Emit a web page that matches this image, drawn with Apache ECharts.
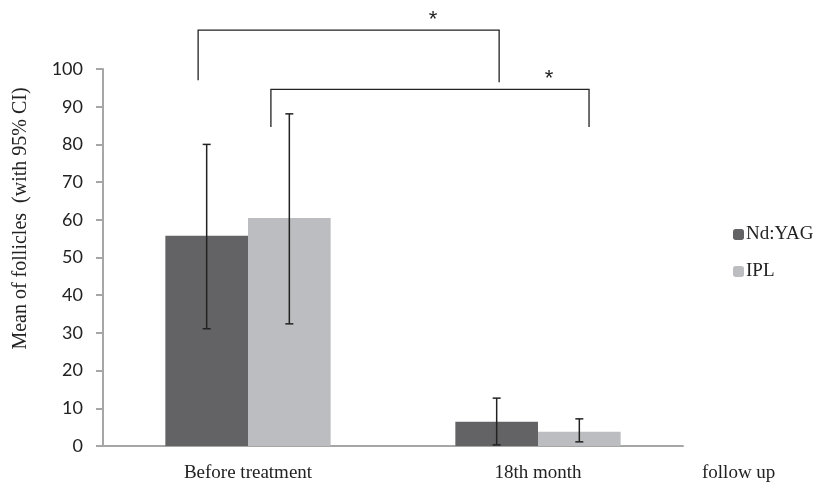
<!DOCTYPE html>
<html>
<head>
<meta charset="utf-8">
<script src="https://cdn.jsdelivr.net/npm/echarts@6/dist/echarts.min.js"></script>
<style>
  html, body { margin: 0; padding: 0; background: #fff; }
  #chart { width: 825px; height: 487px; }
</style>
</head>
<body>
<div id="chart"></div>
<script>
const categories = ['Before treatment', '18th month']
const yagMean = [55.8, 6.4]
const yagLow = [31.1, 0.3]
const yagHigh = [80.0, 12.7]
const iplMean = [60.5, 3.8]
const iplLow = [32.4, 1.1]
const iplHigh = [88.1, 7.2]

// significance brackets: [startCat, endCat, startShift, endShift, top, leftFoot, rightFoot, starShift]
const brackets = [
  [0, 1, -0.172, -0.134, 110.3, 97.0, 96.5, -0.362],
  [0, 1, 0.079, 0.176, 94.6, 84.6, 84.6, 0.038]
]

const gapFrac = 0.43
const serif = '"Liberation Serif", "DejaVu Serif", serif'
const axisGrey = '#a6a6a6'

const chart = echarts.init(document.getElementById('chart'))

function errorItem(side) {
  return (params, api) => {
    const idx = api.value(0)
    const lo = api.coord([idx, api.value(1)])
    const hi = api.coord([idx, api.value(2)])
    const band = api.size([1, 0])[0]
    const barW = band * (1 - gapFrac) / 2
    const x = lo[0] + side * barW / 2
    const cap = 4
    const style = { stroke: '#222', lineWidth: 1.5 }
    return {
      type: 'group',
      children: [
        { type: 'line', shape: { x1: x, y1: lo[1], x2: x, y2: hi[1] }, style },
        { type: 'line', shape: { x1: x - cap, y1: lo[1], x2: x + cap, y2: lo[1] }, style },
        { type: 'line', shape: { x1: x - cap, y1: hi[1], x2: x + cap, y2: hi[1] }, style }
      ]
    }
  }
}

function bracketItem(params, api) {
  const band = api.size([1, 0])[0]
  const a = api.coord([api.value(0), api.value(4)])
  const b = api.coord([api.value(1), api.value(4)])
  const x1 = a[0] + api.value(2) * band
  const x2 = b[0] + api.value(3) * band
  const xs = b[0] + api.value(7) * band
  const yTop = a[1]
  const yL = api.coord([0, api.value(5)])[1]
  const yR = api.coord([0, api.value(6)])[1]
  return {
    type: 'group',
    children: [
      {
        type: 'polyline',
        shape: { points: [[x1, yL], [x1, yTop], [x2, yTop], [x2, yR]] },
        style: { stroke: '#222', lineWidth: 1.3, fill: 'none' }
      },
      {
        type: 'text',
        style: {
          text: '*', x: xs, y: yTop + 1,
          font: '22px "Liberation Sans", sans-serif',
          fill: '#222', align: 'center', verticalAlign: 'bottom'
        }
      }
    ]
  }
}

chart.setOption({
  animation: false,
  grid: { left: 103, right: 142, top: 69, bottom: 41, containLabel: false, outerBoundsMode: 'none' },
  legend: {
    orient: 'vertical',
    left: 728,
    top: 220,
    itemWidth: 11,
    itemHeight: 11,
    itemGap: 18,
    data: ['Nd:YAG', 'IPL'],
    textStyle: { fontFamily: serif, fontSize: 19, color: '#222', padding: [0, 0, 0, -3] }
  },
  xAxis: {
    type: 'category',
    data: categories,
    name: 'follow up',
    nameLocation: 'end',
    nameGap: 19,
    nameTextStyle: { fontFamily: serif, fontSize: 19, color: '#222', verticalAlign: 'top', padding: [18, 0, 0, 0] },
    axisLine: { lineStyle: { color: axisGrey, width: 2 } },
    axisTick: { length: 6, lineStyle: { color: axisGrey, width: 2 } },
    axisLabel: { fontFamily: serif, fontSize: 19, color: '#222', margin: 18 }
  },
  yAxis: {
    type: 'value',
    min: 0,
    max: 100,
    interval: 10,
    name: 'Mean of follicles  (with 95% CI)',
    nameLocation: 'middle',
    nameGap: 72,
    nameTextStyle: { fontFamily: serif, fontSize: 20, color: '#222', padding: [0, 0, 0, 78] },
    splitLine: { show: false },
    axisLine: { show: true, lineStyle: { color: axisGrey, width: 2 } },
    axisTick: { show: true, length: 7, lineStyle: { color: axisGrey, width: 2 } },
    axisLabel: { fontFamily: 'Lato, sans-serif', fontSize: 18, color: '#222', margin: 20 }
  },
  series: [
    {
      name: 'Nd:YAG',
      type: 'bar',
      data: yagMean,
      barGap: '0%',
      barCategoryGap: (gapFrac * 100) + '%',
      itemStyle: { color: '#636365' }
    },
    {
      name: 'IPL',
      type: 'bar',
      data: iplMean,
      barGap: '0%',
      barCategoryGap: (gapFrac * 100) + '%',
      itemStyle: { color: '#bcbdc0' }
    },
    {
      type: 'custom',
      renderItem: errorItem(-1),
      data: categories.map((c, i) => [i, yagLow[i], yagHigh[i]]),
      z: 5
    },
    {
      type: 'custom',
      renderItem: errorItem(1),
      data: categories.map((c, i) => [i, iplLow[i], iplHigh[i]]),
      z: 5
    },
    {
      type: 'custom',
      renderItem: bracketItem,
      data: brackets,
      clip: false,
      z: 5
    }
  ]
})
</script>
</body>
</html>
